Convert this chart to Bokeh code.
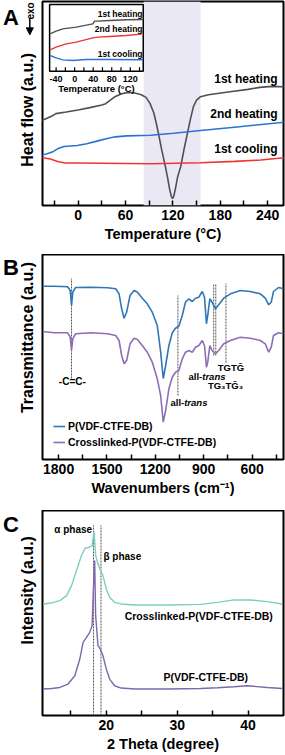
import math
from bokeh.plotting import figure
from bokeh.layouts import column, row
from bokeh.models import (Range1d, FixedTicker, Label, BoxAnnotation, Arrow, NormalHead,
                          Legend, LegendItem)
from bokeh.core.properties import value
from bokeh.embed import file_html
from bokeh.resources import INLINE

FONT = "Liberation Sans"

# ---------------- Panel A : DSC ----------------
a_temp_h1 = [-46, -40, -33, -28, -15, 0, 15, 30, 35, 40, 46, 55, 64, 72, 80, 86, 91, 96, 99, 102,
             106, 110, 113, 116, 118, 119.5, 121, 123, 126, 130, 134, 138, 142, 146, 150, 155,
             165, 190, 215, 230, 245, 261]
a_hf_h1 = [25.8, 26.4, 27.2, 27.9, 28.4, 29.0, 29.7, 30.5, 30.9, 31.8, 32.9, 33.9, 34.3, 34.1,
           33.6, 32.8, 31.0, 28.0, 25.0, 21.6, 16.8, 12.5, 9.0, 5.0, 3.0, 2.3, 2.9, 5.0, 8.8,
           12.0, 17.0, 21.5, 26.0, 30.0, 32.0, 33.0, 33.6, 34.4, 35.2, 35.8, 36.1, 36.0]
a_temp_h2 = [-46, -39, -31, -25, -18, -1, 11, 24, 37, 47, 62, 92, 121, 155, 198, 261]
a_hf_h2 = [15.4, 15.8, 16.5, 17.4, 18.0, 18.3, 18.8, 19.6, 20.4, 20.9, 21.2, 21.4, 22.0, 22.8,
           23.8, 25.3]
a_temp_c1 = [-46, -35, -25, -16, -1, 92, 155, 198, 231, 261]
a_hf_c1 = [14.7, 14.2, 13.4, 13.0, 13.0, 12.8, 13.1, 13.5, 13.9, 14.6]
a_series = ["1st heating", "2nd heating", "1st cooling"]
a_ticks = [0, 60, 120, 180, 240]
a_minor = [-30, 30, 90, 150, 210]
a_band = (83, 155)

# inset
ins_t_h1 = [-53, -40, -25.5, 3.3, 39.4, 43, 50.2, 75.4, 111.4, 147.5]
ins_y_h1 = [11.2, 12.0, 12.7, 13.2, 14.2, 15.0, 15.0, 15.2, 15.4, 15.5]
ins_t_h2 = [-53, -40, -18.3, 3.3, 39.4, 50.2, 75.4, 111.4, 147.5]
ins_y_h2 = [6.4, 7.2, 8.2, 8.7, 10.0, 10.2, 10.4, 10.7, 11.2]
ins_t_c1 = [-53, -40, -25.5, -3.9, 24.9, 75.4, 147.5]
ins_y_c1 = [4.7, 4.0, 3.4, 3.2, 3.5, 3.5, 3.4]
ins_ticks = [-40, -20, 0, 20, 40, 60, 80, 100, 120, 140]
ins_tick_labels = [-40, 0, 40, 80, 120]

# ---------------- Panel B : FTIR ----------------
b_wn = [1899, 1827, 1744, 1728, 1720, 1712, 1695, 1600, 1497, 1446, 1425, 1409, 1394, 1378, 1357,
        1332, 1311, 1281, 1250, 1219, 1188, 1167, 1151, 1136, 1116, 1095, 1075, 1054, 1033, 1013,
        992, 971, 951, 930, 909, 895, 883, 875, 862, 848, 827, 807, 776, 734, 673, 611, 549, 518,
        497, 481, 467, 436, 405]
b_pvdf = [17.33, 17.33, 17.27, 16.9, 15.4, 16.73, 17.2, 17.23, 17.17, 17.07, 16.57, 15.07, 14.13,
          14.73, 16.4, 16.9, 16.73, 16.13, 15.57, 14.73, 13.4, 10.73, 8.1, 9.4, 11.4, 12.67, 13.13,
          13.33, 14.4, 15.73, 16.07, 15.8, 16.13, 16.23, 16.8, 16.23, 13.57, 14.4, 16.07, 15.73,
          15.07, 15.47, 16.13, 16.57, 16.9, 16.8, 16.57, 16.13, 15.47, 15.73, 16.8, 17.2, 17.07]
b_xl = [12.8, 12.67, 12.67, 12.23, 10.9, 12.07, 12.57, 12.67, 12.57, 12.4, 11.9, 10.4, 9.57, 9.9,
        11.57, 12.13, 12.0, 11.4, 10.73, 9.73, 8.07, 6.4, 3.73, 4.9, 7.07, 8.23, 8.73, 8.9, 10.07,
        10.73, 10.9, 10.73, 11.23, 11.4, 11.9, 11.4, 9.23, 9.73, 11.4, 10.9, 10.57, 10.9, 11.57,
        11.9, 12.23, 12.13, 11.9, 11.57, 10.73, 11.23, 12.4, 12.67, 12.57]
b_series = ["P(VDF-CTFE-DB)", "Crosslinked-P(VDF-CTFE-DB)"]
b_ticks = [1800, 1500, 1200, 900, 600]
b_minor = [1650, 1350, 1050, 750, 450]
b_vline_x = [1720, 1060, 838, 825, 762]
b_vline_y0 = [8.1, 6.4, 10.4, 10.4, 9.7]
b_vline_y1 = [18.1, 16.4, 17.6, 17.6, 17.6]

# ---------------- Panel C : XRD ----------------
c_theta_xl = [11.1, 12.3, 13.45, 14.4, 15.1, 15.8, 16.5, 17.0, 17.5, 18.0, 18.27, 18.5, 18.83,
              19.2, 19.53, 20.0, 20.47, 21.17, 22.1, 24.0, 28.65, 33.3, 35.7, 38.0, 40.3, 42.7, 44.8]
c_int_xl = [11.14, 11.24, 11.47, 11.97, 12.97, 14.47, 15.97, 16.7, 16.77, 16.97, 18.37, 15.97,
            15.14, 14.47, 13.97, 12.64, 11.8, 11.3, 11.14, 11.04, 11.04, 11.1, 11.3, 11.54, 11.54,
            11.37, 11.14]
c_theta_p = [11.1, 12.3, 13.45, 14.6, 15.56, 16.26, 16.73, 17.2, 17.66, 18.0, 18.18, 18.36, 18.5,
             18.83, 19.16, 19.53, 20.0, 20.47, 21.17, 22.1, 24.0, 28.65, 33.3, 35.7, 38.0, 39.87,
             42.7, 44.8]
c_int_p = [2.64, 2.70, 2.80, 3.14, 3.97, 5.64, 7.3, 7.8, 8.3, 8.97, 12.64, 15.47, 9.97, 6.97, 6.64,
           5.97, 4.64, 3.64, 2.97, 2.74, 2.64, 2.64, 2.7, 2.77, 2.87, 2.97, 2.8, 2.7]
c_ticks = [20, 30, 40]
c_minor = [15, 25, 35]
c_phase_x = [18.2, 19.25]

SIDE_W = 41
MAIN_W = 244


def base_fig(height, xr, yr, top, bottom, ticks, minor, xlabel):
    p = figure(width=MAIN_W, height=height, x_range=xr, y_range=yr,
               output_backend="svg", toolbar_location=None, y_axis_location=None,
               min_border_left=1, min_border_right=2, min_border_top=top,
               min_border_bottom=bottom)
    p.grid.visible = False
    p.outline_line_color = "black"
    p.outline_line_width = 2
    p.outline_line_alpha = 1.0
    ax = p.xaxis[0]
    ax.ticker = FixedTicker(ticks=ticks, minor_ticks=minor)
    ax.axis_line_color = None
    ax.major_tick_in = 5
    ax.major_tick_out = 0
    ax.minor_tick_in = 5
    ax.minor_tick_out = 0
    ax.major_tick_line_width = 1.5
    ax.minor_tick_line_width = 1.5
    ax.major_tick_line_color = "black"
    ax.minor_tick_line_color = "black"
    ax.major_label_text_font = FONT
    ax.major_label_text_font_style = "bold"
    ax.major_label_text_font_size = "14px"
    ax.major_label_text_color = "black"
    ax.major_label_standoff = 4
    ax.axis_label = xlabel
    ax.axis_label_text_font = FONT
    ax.axis_label_text_font_style = "bold"
    ax.axis_label_text_font_size = "14.5px"
    ax.axis_label_text_color = "black"
    ax.axis_label_standoff = 3
    return p


def side_fig(height, letter, letter_y, ylabel, ylabel_y):
    s = figure(width=SIDE_W, height=height, x_range=Range1d(0, SIDE_W),
               y_range=Range1d(0, height), output_backend="svg", toolbar_location=None,
               x_axis_location=None, y_axis_location=None, min_border_left=0,
               min_border_right=0, min_border_top=0, min_border_bottom=0)
    s.grid.visible = False
    s.outline_line_color = None
    s.text(x=[2.5], y=[letter_y], text=[letter], text_font=value(FONT),
           text_font_style="bold", text_font_size="22px", text_align="left",
           text_baseline="alphabetic", text_color="black")
    s.text(x=[26.7], y=[ylabel_y], text=[ylabel], angle=math.pi / 2, text_font=value(FONT),
           text_font_style="bold", text_font_size="16px", text_align="center",
           text_baseline="middle", text_color="black")
    return s


def data_label(p, text, x, y, size, align="center", style="bold"):
    p.add_layout(Label(x=x, y=y, text=text, text_font=FONT, text_font_style=style,
                       text_font_size=size, text_align=align, text_baseline="middle",
                       text_color="black"))


# ================= A =================
HA = 254
pa = base_fig(HA, Range1d(-45, 260), Range1d(0.2, 61.7), 1, 49,
              a_ticks, a_minor, "Temperature (°C)")
pa.add_layout(BoxAnnotation(left=a_band[0], right=a_band[1], fill_color="#ebe8f5",
                            fill_alpha=1.0, line_color=None, level="underlay"))
pa.line(a_temp_h1, a_hf_h1, line_color="#505050", line_width=1.6)
pa.line(a_temp_h2, a_hf_h2, line_color="#2c72d6", line_width=1.6)
pa.line(a_temp_c1, a_hf_c1, line_color="#ee3535", line_width=1.6)
for txt, yy in zip(a_series, [38.3, 27.8, 17.3]):
    data_label(pa, txt, 252.5, yy, "12px", align="right")

sub = pa.subplot(x_source=Range1d(-54, 148), y_source=Range1d(0, 20),
                 x_target=Range1d(-36, 82.5), y_target=Range1d(40.7, 60.8))
sub.quad(left=[-54], right=[148], bottom=[0], top=[20], fill_color="white",
         line_color="black", line_width=1.5)
sub.line(ins_t_h1, ins_y_h1, line_color="#505050", line_width=1.4)
sub.line(ins_t_h2, ins_y_h2, line_color="#ee3535", line_width=1.4)
sub.line(ins_t_c1, ins_y_c1, line_color="#2c72d6", line_width=1.4)
sub.segment(x0=ins_ticks, y0=[0] * len(ins_ticks), x1=ins_ticks, y1=[1.2] * len(ins_ticks),
            line_color="black", line_width=1.2)
sub.text(x=ins_tick_labels, y=[-2.5] * len(ins_tick_labels),
         text=[str(t) for t in ins_tick_labels], text_font=value(FONT),
         text_font_style="bold", text_font_size="9px", text_align="center",
         text_baseline="middle", text_color="black")
sub.text(x=[47], y=[-5.1], text=["Temperature (°C)"], text_font=value(FONT),
         text_font_style="bold", text_font_size="9.5px", text_align="center",
         text_baseline="middle", text_color="black")
sub.text(x=[146.5] * 3, y=[17.0, 12.5, 5.2], text=a_series, text_font=value(FONT),
         text_font_style="bold", text_font_size="8.5px", text_align="right",
         text_baseline="middle", text_color="black")

sa = side_fig(HA, "A", HA - 20, "Heat flow (a.u.)", HA - 135)
sa.text(x=[30], y=[HA - 11.7], text=["exo"], angle=math.pi / 2, text_font=value(FONT),
        text_font_style="bold", text_font_size="10px", text_align="center",
        text_baseline="middle", text_color="black")
sa.add_layout(Arrow(end=NormalHead(size=7, fill_color="black", line_color="black"),
                    x_start=29.3, y_start=HA - 21.5, x_end=29.3, y_end=HA - 41.5,
                    line_width=1.5, line_color="black"))

# ================= B =================
HB = 256
pb = base_fig(HB, Range1d(1900, 405), Range1d(0, 20.5), 0, 51,
              b_ticks, b_minor, "Wavenumbers (cm⁻¹)")
pb.segment(x0=b_vline_x, y0=b_vline_y0, x1=b_vline_x, y1=b_vline_y1, line_color="#555555",
           line_width=1, line_dash="2 1")
rb1 = pb.line(b_wn, b_pvdf, line_color="#2f77b8", line_width=1.6)
rb2 = pb.line(b_wn, b_xl, line_color="#8d6eb5", line_width=1.6)
leg = Legend(items=[LegendItem(label=b_series[0], renderers=[rb1]),
                    LegendItem(label=b_series[1], renderers=[rb2])],
             location=(11, 11), padding=0, margin=0, spacing=4, glyph_width=12,
             glyph_height=12, label_height=12, label_standoff=3, border_line_color=None,
             background_fill_alpha=0, label_text_font=FONT, label_text_font_style="bold",
             label_text_font_size="10.5px", label_text_color="black")
pb.add_layout(leg)

data_label(pb, "-C=C-", 1715, 7.8, "10px")
data_label(pb, "all-", 1021, 5.7, "9.5px", align="right")
data_label(pb, "trans", 1021, 5.7, "9.5px", align="left", style="bold italic")
data_label(pb, "all-", 909, 8.3, "9.5px", align="right")
data_label(pb, "trans", 909, 8.3, "9.5px", align="left", style="bold italic")
data_label(pb, "TGTḠ", 731, 9.2, "9.5px")
data_label(pb, "TG₃TḠ₃", 765, 7.4, "9.5px")

sb = side_fig(HB, "B", HB - 16, "Transmittance (a.u.)", HB - 103.7)

# ================= C =================
HC = 244
pc = base_fig(HC, Range1d(11, 45), Range1d(0, 20.47), 0, 39,
              c_ticks, c_minor, "2 Theta (degree)")
pc.segment(x0=c_phase_x, y0=[0, 0], x1=c_phase_x, y1=[19, 19], line_color="#555555",
           line_width=1, line_dash="2 1")
pc.line(c_theta_xl, c_int_xl, line_color="#7dcfbd", line_width=1.4)
pc.line(c_theta_p, c_int_p, line_color="#7e67ab", line_width=1.4)
data_label(pc, "α phase", 18.0, 18.6, "10px", align="right")
data_label(pc, "β phase", 19.6, 15.9, "10px", align="left")
data_label(pc, "Crosslinked-P(VDF-CTFE-DB)", 43.5, 9.9, "10.5px", align="right")
data_label(pc, "P(VDF-CTFE-DB)", 40.0, 3.8, "10.5px", align="right")

sc = side_fig(HC, "C", HC - 16.7, "Intensity (a.u.)", HC - 95)

layout = column(row(sa, pa, spacing=0), row(sb, pb, spacing=0), row(sc, pc, spacing=0),
                spacing=0)
open("out.html", "w").write(file_html(layout, INLINE))
